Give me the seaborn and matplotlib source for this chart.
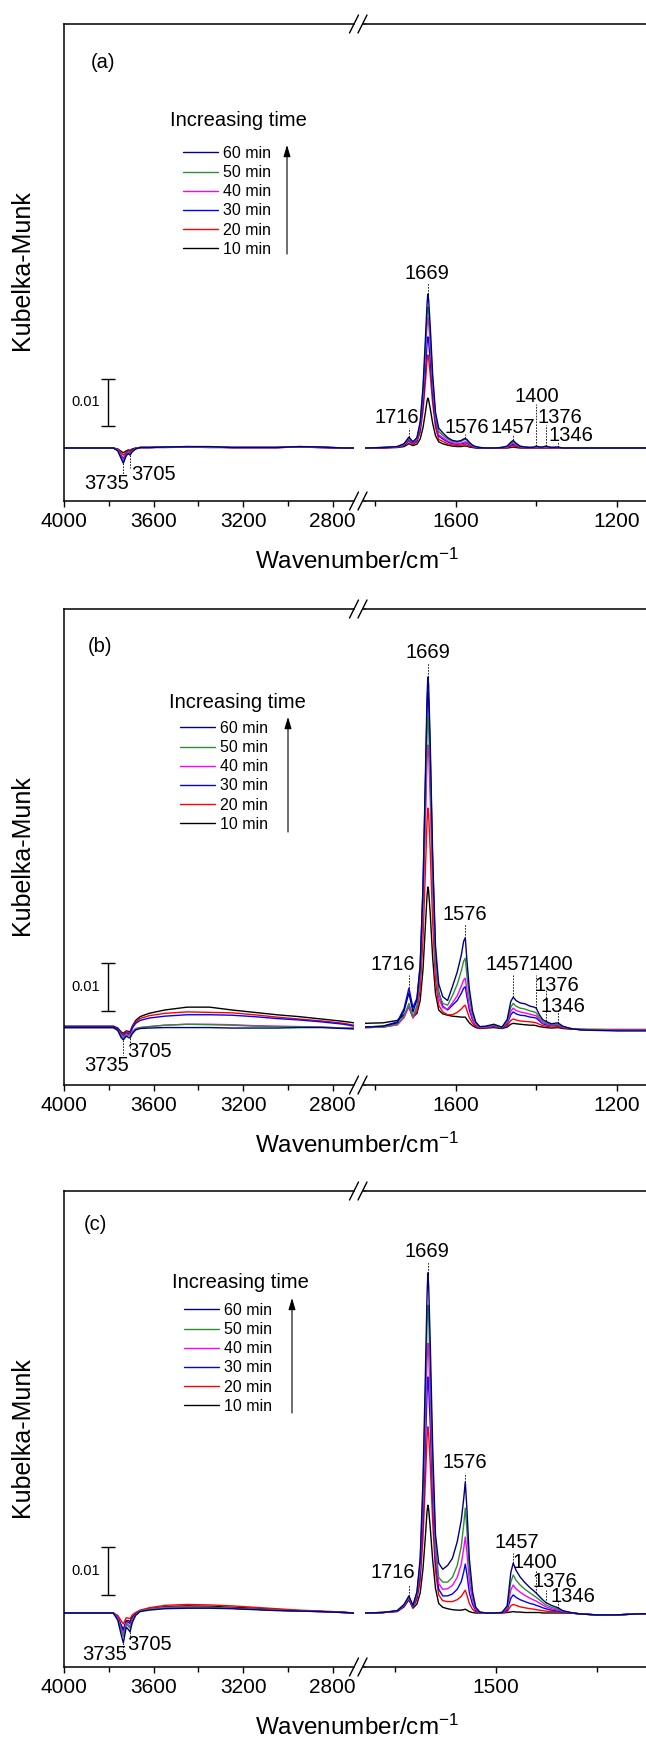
import pandas as pd
import seaborn as sns
import matplotlib.pyplot as plt
from matplotlib.lines import Line2D
from matplotlib.patches import FancyArrowPatch
from matplotlib.ticker import FixedLocator

W, H = 646, 1743

times = ['10 min', '20 min', '30 min', '40 min', '50 min', '60 min']
colors = ['black', '#ff0000', '#0000ff', '#ff00ff', '#2f8f2f', '#000080']

# wavenumbers (cm-1) sampled from the two parts of the broken axis
wn_left = [4000, 3850, 3780, 3760, 3745, 3735, 3722, 3712, 3705, 3695,
           3680, 3660, 3620, 3550, 3450, 3350, 3250, 3150, 3050, 2950,
           2850, 2750, 2705]
wn_right = [1825, 1780, 1745, 1728, 1716, 1706, 1696, 1688, 1681, 1675,
            1671, 1669, 1667, 1663, 1657, 1650, 1642, 1632, 1620, 1608,
            1596, 1586, 1580, 1576, 1572, 1566, 1558, 1550, 1540, 1525,
            1505, 1485, 1472, 1463, 1457, 1450, 1440, 1428, 1415, 1405,
            1400, 1392, 1384, 1376, 1362, 1346, 1334, 1315, 1290, 1250,
            1200, 1150, 1100]

# ---- panel (a), Kubelka-Munk in units of 0.001 ----
a_left_10 = [0.0, 0.0, 0.0, -0.2, -0.7, -1.0, -0.6, -0.4, -0.5, -0.2,
             0.0, 0.1, 0.1, 0.1, 0.2, 0.1, 0.1, 0.1, 0.1, 0.2, 0.1, 0.0, 0.0]
a_left_20 = [0.0, 0.0, 0.0, -0.3, -1.0, -1.5, -0.9, -0.6, -0.7, -0.4,
             -0.1, 0.1, 0.1, 0.2, 0.2, 0.2, 0.1, 0.1, 0.1, 0.2, 0.1, 0.0, 0.0]
a_left_30 = [0.0, 0.0, 0.0, -0.4, -1.5, -2.2, -1.2, -0.9, -1.0, -0.5,
             -0.1, 0.1, 0.1, 0.2, 0.2, 0.2, 0.1, 0.1, 0.1, 0.2, 0.1, 0.0, 0.0]
a_left_40 = [0.0, 0.0, 0.0, -0.4, -1.7, -2.5, -1.4, -1.0, -1.1, -0.6,
             -0.1, 0.1, 0.1, 0.2, 0.2, 0.2, 0.1, 0.1, 0.1, 0.2, 0.2, 0.0, 0.0]
a_left_50 = [0.0, 0.0, 0.0, -0.5, -2.0, -3.0, -1.5, -1.1, -1.3, -0.7,
             -0.2, 0.1, 0.1, 0.2, 0.3, 0.2, 0.1, 0.1, 0.1, 0.3, 0.2, 0.0, 0.0]
a_left_60 = [0.0, 0.0, 0.0, -0.6, -2.2, -3.2, -1.6, -1.2, -1.5, -0.8,
             -0.2, 0.1, 0.1, 0.2, 0.3, 0.3, 0.1, 0.1, 0.1, 0.3, 0.2, 0.0, 0.0]

a_right_10 = [0.0, 0.0, 0.1, 0.3, 0.9, 0.5, 0.8, 1.9, 4.3, 7.5,
              9.9, 10.5, 10.1, 8.3, 5.2, 2.6, 1.3, 0.9, 0.6, 0.4,
              0.3, 0.3, 0.4, 0.4, 0.4, 0.2, 0.1, 0.0, 0.0, 0.0,
              0.0, 0.0, 0.0, 0.1, 0.2, 0.1, 0.0, 0.0, 0.0, 0.0,
              0.0, 0.0, 0.0, 0.0, 0.0, 0.0, 0.0, 0.0, 0.0, 0.0,
              0.0, 0.0, 0.0]
a_right_20 = [0.0, 0.0, 0.2, 0.5, 1.4, 0.7, 1.3, 3.3, 7.8, 13.8,
              18.3, 19.6, 18.8, 15.4, 9.4, 4.4, 1.8, 1.4, 0.9, 0.6,
              0.5, 0.6, 0.7, 0.7, 0.6, 0.4, 0.2, 0.1, 0.0, 0.0,
              0.0, 0.0, 0.1, 0.4, 0.5, 0.3, 0.1, 0.1, 0.0, 0.1,
              0.1, 0.1, 0.0, 0.1, 0.0, 0.0, 0.0, 0.0, 0.0, 0.0,
              0.0, 0.0, 0.0]
a_right_30 = [0.0, 0.1, 0.2, 0.6, 1.7, 0.9, 1.6, 4.0, 9.3, 16.5,
              21.9, 23.4, 22.5, 18.4, 11.2, 5.3, 2.5, 1.9, 1.3, 0.9,
              0.8, 0.9, 1.0, 1.1, 1.0, 0.7, 0.3, 0.1, 0.0, 0.0,
              0.0, 0.1, 0.2, 0.6, 0.8, 0.5, 0.2, 0.1, 0.1, 0.1,
              0.2, 0.1, 0.1, 0.2, 0.1, 0.1, 0.0, 0.0, 0.0, 0.0,
              0.0, 0.0, 0.0]
a_right_40 = [0.0, 0.1, 0.2, 0.7, 1.9, 1.0, 1.8, 4.6, 11.0, 19.5,
              25.8, 27.6, 26.5, 21.7, 13.2, 6.2, 2.8, 2.2, 1.5, 1.1,
              0.9, 1.0, 1.2, 1.3, 1.2, 0.8, 0.4, 0.2, 0.1, 0.0,
              0.0, 0.1, 0.2, 0.8, 1.0, 0.6, 0.3, 0.1, 0.1, 0.1,
              0.2, 0.1, 0.1, 0.2, 0.1, 0.1, 0.0, 0.0, 0.0, 0.0,
              0.0, 0.0, 0.0]
a_right_50 = [0.0, 0.1, 0.3, 0.8, 2.1, 1.2, 2.0, 5.0, 11.8, 21.0,
              27.8, 29.7, 28.6, 23.4, 14.2, 6.8, 3.5, 2.7, 1.9, 1.4,
              1.2, 1.4, 1.7, 1.8, 1.6, 1.0, 0.5, 0.2, 0.1, 0.0,
              0.0, 0.1, 0.3, 1.0, 1.3, 0.8, 0.3, 0.2, 0.1, 0.1,
              0.3, 0.2, 0.1, 0.3, 0.1, 0.1, 0.0, 0.0, 0.0, 0.0,
              0.0, 0.0, 0.0]
a_right_60 = [0.0, 0.1, 0.3, 0.9, 2.3, 1.3, 2.2, 5.5, 12.8, 23.0,
              30.3, 32.4, 31.2, 25.6, 15.5, 7.5, 4.2, 3.2, 2.2, 1.6,
              1.4, 1.6, 1.9, 2.0, 1.8, 1.2, 0.6, 0.3, 0.1, 0.0,
              0.0, 0.1, 0.4, 1.2, 1.6, 1.0, 0.4, 0.2, 0.1, 0.2,
              0.4, 0.2, 0.2, 0.4, 0.1, 0.2, 0.0, 0.0, 0.0, 0.0,
              0.0, 0.0, 0.0]

# ---- panel (b) ----
b_left_10 = [0.6, 0.6, 0.6, 0.2, -0.6, -0.9, -0.4, -0.5, -0.6, 0.6,
             1.8, 2.6, 3.3, 4.0, 4.6, 4.6, 4.0, 3.5, 3.0, 2.6, 2.1, 1.6, 1.3]
b_left_20 = [0.4, 0.4, 0.4, 0.0, -0.8, -1.1, -0.6, -0.7, -0.8, 0.4,
             1.5, 2.2, 2.8, 3.3, 3.6, 3.5, 3.4, 3.0, 2.5, 2.1, 1.7, 1.2, 0.8]
b_left_30 = [0.4, 0.4, 0.4, 0.0, -1.0, -1.4, -0.8, -1.0, -1.1, 0.2,
             1.2, 1.8, 2.3, 2.7, 3.0, 3.0, 2.9, 2.6, 2.2, 1.9, 1.5, 1.0, 0.6]
b_left_40 = [0.3, 0.3, 0.3, -0.2, -1.2, -1.6, -1.0, -1.2, -1.3, -0.5,
             0.1, 0.3, 0.5, 0.8, 1.0, 1.0, 0.9, 0.7, 0.6, 0.5, 0.4, 0.2, 0.2]
b_left_50 = [0.3, 0.3, 0.3, -0.2, -1.4, -1.9, -1.2, -1.4, -1.5, -0.7,
             0.0, 0.3, 0.5, 0.8, 1.0, 0.9, 0.8, 0.6, 0.5, 0.5, 0.4, 0.2, 0.2]
b_left_60 = [0.3, 0.3, 0.3, -0.3, -1.8, -2.3, -1.5, -1.8, -1.9, -1.0,
             -0.2, 0.1, 0.2, 0.3, 0.3, 0.3, 0.2, 0.2, 0.2, 0.3, 0.3, 0.1, 0.0]

b_right_10 = [1.2, 1.3, 1.8, 3.0, 4.6, 2.5, 3.3, 6.0, 12.5, 21.8,
              28.0, 29.9, 29.1, 24.3, 15.0, 7.5, 4.0, 3.2, 2.9, 2.7,
              2.6, 2.5, 2.5, 2.5, 2.0, 1.3, 0.7, 0.3, 0.1, 0.2,
              0.3, 0.1, 0.4, 1.0, 1.2, 1.1, 1.0, 0.9, 0.8, 0.8,
              0.7, 0.5, 0.4, 0.3, 0.2, 0.3, 0.1, 0.0, -0.1, -0.1,
              -0.1, -0.1, -0.1]
b_right_20 = [0.3, 0.4, 0.9, 2.5, 5.0, 2.4, 3.8, 8.3, 19.0, 33.5,
              43.5, 46.5, 45.2, 37.5, 22.6, 10.3, 5.0, 3.6, 3.0, 3.0,
              3.5, 4.2, 4.8, 5.0, 3.9, 2.4, 1.2, 0.5, 0.2, 0.3,
              0.5, 0.2, 0.7, 1.8, 2.1, 1.9, 1.7, 1.6, 1.5, 1.4,
              1.3, 1.0, 0.7, 0.6, 0.4, 0.5, 0.2, 0.0, -0.1, -0.1,
              -0.2, -0.2, -0.2]
b_right_30 = [0.4, 0.6, 1.5, 4.3, 8.6, 4.5, 6.5, 13.5, 29.5, 51.5,
              67.0, 71.0, 69.3, 57.5, 35.0, 16.0, 7.8, 4.8, 4.0, 5.0,
              6.0, 7.5, 8.6, 8.9, 6.8, 4.0, 1.9, 0.8, 0.3, 0.4,
              0.6, 0.2, 1.1, 3.0, 3.6, 3.2, 2.9, 2.8, 2.5, 2.4,
              2.3, 1.7, 1.1, 0.9, 0.7, 0.8, 0.3, 0.1, -0.1, -0.2,
              -0.3, -0.3, -0.3]
b_right_40 = [0.3, 0.4, 0.9, 2.4, 4.8, 2.3, 4.4, 10.5, 24.5, 43.2,
              56.4, 59.8, 58.2, 48.2, 29.0, 13.0, 6.5, 4.5, 4.2, 5.5,
              7.0, 9.0, 10.3, 10.7, 8.2, 4.8, 2.2, 0.9, 0.3, 0.4,
              0.7, 0.3, 1.3, 3.7, 4.4, 3.9, 3.6, 3.4, 3.1, 2.9,
              2.8, 2.0, 1.3, 1.1, 0.8, 0.9, 0.4, 0.1, -0.1, -0.2,
              -0.2, -0.2, -0.2]
b_right_50 = [0.3, 0.4, 1.0, 2.7, 5.4, 2.6, 4.9, 11.6, 27.0, 47.5,
              62.0, 65.7, 64.0, 53.0, 32.0, 14.5, 7.5, 5.4, 5.0, 7.0,
              9.4, 12.2, 14.3, 14.9, 11.3, 6.6, 3.0, 1.2, 0.4, 0.5,
              0.8, 0.3, 1.6, 4.6, 5.4, 4.8, 4.4, 4.2, 3.8, 3.6,
              3.4, 2.4, 1.6, 1.3, 0.9, 1.0, 0.5, 0.1, -0.1, -0.2,
              -0.3, -0.3, -0.3]
b_right_60 = [0.4, 0.6, 1.3, 3.8, 7.6, 3.6, 6.2, 13.1, 30.0, 53.5,
              70.0, 74.1, 72.5, 60.0, 36.5, 17.5, 9.5, 6.8, 6.0, 8.9,
              12.0, 15.5, 18.5, 19.2, 14.5, 8.5, 3.8, 1.5, 0.5, 0.6,
              1.0, 0.4, 2.0, 5.8, 6.7, 6.0, 5.5, 5.3, 4.8, 4.6,
              4.4, 3.0, 2.0, 1.6, 1.1, 1.3, 0.6, 0.1, -0.2, -0.3,
              -0.4, -0.4, -0.4]

# ---- panel (c) ----
c_left_10 = [0.0, 0.0, 0.0, -0.8, -2.5, -3.5, -1.6, -1.6, -1.8, -0.8,
             -0.1, 0.5, 0.9, 1.3, 1.5, 1.4, 1.2, 1.0, 0.7, 0.5, 0.3, 0.1, 0.0]
c_left_20 = [0.0, 0.0, 0.0, -0.5, -1.6, -2.3, -1.0, -1.1, -1.2, -0.4,
             0.1, 0.6, 1.1, 1.6, 1.8, 1.7, 1.5, 1.2, 0.9, 0.6, 0.4, 0.2, 0.0]
c_left_30 = [0.0, 0.0, 0.0, -0.9, -2.7, -3.8, -1.8, -2.0, -2.2, -1.0,
             -0.2, 0.4, 0.8, 1.2, 1.3, 1.2, 1.0, 0.8, 0.6, 0.4, 0.3, 0.1, 0.0]
c_left_40 = [0.0, 0.0, 0.0, -1.0, -3.2, -4.5, -2.1, -2.5, -2.8, -1.3,
             -0.3, 0.4, 0.8, 1.2, 1.3, 1.2, 1.0, 0.8, 0.6, 0.4, 0.3, 0.1, 0.0]
c_left_50 = [0.0, 0.0, 0.0, -1.2, -3.6, -5.0, -2.4, -2.8, -3.2, -1.6,
             -0.4, 0.4, 0.8, 1.1, 1.2, 1.2, 1.0, 0.8, 0.6, 0.4, 0.3, 0.1, 0.0]
c_left_60 = [0.0, 0.0, 0.0, -1.5, -4.5, -6.3, -3.0, -3.5, -4.0, -2.0,
             -0.5, 0.3, 0.6, 0.9, 1.0, 1.0, 0.9, 0.7, 0.5, 0.4, 0.3, 0.1, 0.0]

c_right_10 = [0.0, 0.1, 0.3, 1.3, 2.8, 1.0, 1.9, 4.2, 9.3, 16.2,
              21.3, 22.7, 21.9, 18.0, 11.2, 5.2, 2.0, 1.2, 0.9, 0.7,
              0.6, 0.6, 0.7, 0.8, 0.6, 0.3, 0.1, 0.0, 0.0, 0.0,
              0.0, 0.0, 0.1, 0.2, 0.3, 0.2, 0.2, 0.1, 0.1, 0.1,
              0.1, 0.1, 0.0, 0.0, 0.0, 0.0, 0.0, 0.0, -0.2, -0.4,
              -0.4, -0.2, -0.1]
c_right_20 = [0.0, 0.1, 0.4, 1.4, 3.0, 1.2, 2.8, 6.7, 15.7, 28.0,
              36.8, 39.2, 37.8, 31.2, 19.2, 8.8, 3.8, 2.6, 2.4, 2.4,
              2.8, 3.5, 4.3, 4.8, 3.8, 2.0, 0.8, 0.2, 0.0, 0.0,
              0.0, 0.0, 0.3, 1.5, 1.8, 1.6, 1.3, 1.1, 0.9, 0.8,
              0.7, 0.6, 0.5, 0.4, 0.3, 0.2, 0.1, 0.0, -0.2, -0.4,
              -0.4, -0.2, -0.1]
c_right_30 = [0.0, 0.1, 0.4, 1.5, 3.1, 1.3, 3.4, 8.3, 19.8, 35.2,
              46.4, 49.7, 48.0, 39.6, 24.2, 11.0, 5.0, 3.6, 3.6, 4.0,
              5.0, 6.6, 8.6, 10.3, 8.2, 4.3, 1.8, 0.5, 0.1, 0.0,
              0.0, 0.1, 0.6, 3.1, 3.8, 3.3, 2.8, 2.4, 2.0, 1.8,
              1.6, 1.4, 1.1, 0.9, 0.6, 0.4, 0.2, 0.0, -0.2, -0.4,
              -0.4, -0.2, -0.1]
c_right_40 = [0.0, 0.1, 0.4, 1.6, 3.2, 1.4, 3.8, 9.5, 22.5, 40.2,
              53.0, 56.8, 54.8, 45.2, 27.6, 12.6, 6.2, 5.0, 5.1, 5.8,
              7.5, 10.3, 13.5, 16.0, 12.8, 6.6, 2.7, 0.8, 0.1, 0.0,
              0.0, 0.1, 0.9, 4.8, 5.9, 5.1, 4.4, 3.7, 3.1, 2.7,
              2.5, 2.1, 1.7, 1.3, 0.9, 0.6, 0.3, 0.1, -0.2, -0.4,
              -0.4, -0.2, -0.1]
c_right_50 = [0.0, 0.1, 0.5, 1.7, 3.4, 1.5, 4.2, 10.6, 25.5, 45.8,
              60.5, 64.8, 62.5, 51.5, 31.5, 14.5, 7.5, 6.5, 6.5, 7.5,
              10.0, 14.0, 18.5, 22.1, 17.5, 9.0, 3.6, 1.0, 0.2, 0.0,
              0.0, 0.1, 1.2, 6.5, 8.0, 6.9, 5.9, 5.0, 4.2, 3.6,
              3.3, 2.8, 2.2, 1.7, 1.2, 0.8, 0.4, 0.1, -0.2, -0.4,
              -0.4, -0.2, -0.1]
c_right_60 = [0.0, 0.1, 0.5, 1.8, 3.6, 1.6, 4.5, 11.5, 28.0, 50.5,
              66.8, 71.6, 69.0, 57.0, 35.0, 16.5, 10.5, 9.2, 10.0, 11.5,
              15.0, 19.5, 24.0, 27.6, 22.0, 11.5, 4.5, 1.2, 0.2, 0.0,
              0.0, 0.1, 1.5, 8.5, 10.5, 9.0, 7.6, 6.4, 5.3, 4.6,
              4.2, 3.5, 2.8, 2.2, 1.6, 1.1, 0.5, 0.1, -0.2, -0.4,
              -0.4, -0.2, -0.1]

# peak labels: text, line x, line y0, line y1, text x, text y, axis part
a_notes = [('1669', 1669, 32.4, 34.7, 1670, 36.8, 'r'),
           ('1716', 1716, 2.3, 4.2, 1745, 6.5, 'r'),
           ('1576', 1576, 2.0, 2.9, 1572, 4.3, 'r'),
           ('1457', 1457, 1.6, 2.9, 1457, 4.3, 'r'),
           ('1400', 1400, 0.4, 9.3, 1398, 10.9, 'r'),
           ('1376', 1376, 0.4, 4.8, 1340, 6.5, 'r'),
           ('1346', 1346, 0.2, 1.3, 1313, 2.7, 'r'),
           ('3735', 3735, -3.2, -5.7, 3808, -7.4, 'l'),
           ('3705', 3705, -1.5, -4.2, 3602, -5.5, 'l')]
b_notes = [('1669', 1669, 74.1, 77.1, 1669, 79.2, 'r'),
           ('1576', 1576, 19.2, 22.1, 1576, 24.0, 'r'),
           ('1716', 1716, 8.6, 11.4, 1755, 13.5, 'r'),
           ('1457', 1457, 6.7, 11.4, 1470, 13.5, 'r'),
           ('1400', 1400, 4.4, 11.4, 1363, 13.5, 'r'),
           ('1376', 1376, 1.6, 8.2, 1348, 9.1, 'r'),
           ('1346', 1346, 1.3, 4.0, 1333, 4.8, 'r'),
           ('3735', 3735, -2.3, -5.5, 3808, -7.6, 'l'),
           ('3705', 3705, -1.9, -4.0, 3616, -4.8, 'l')]
c_notes = [('1669', 1669, 71.6, 73.9, 1672, 76.2, 'r'),
           ('1576', 1576, 27.6, 29.5, 1576, 31.6, 'r'),
           ('1716', 1716, 3.6, 5.9, 1755, 8.6, 'r'),
           ('1457', 1457, 10.5, 12.6, 1447, 14.9, 'r'),
           ('1400', 1400, 4.2, 9.1, 1403, 10.7, 'r'),
           ('1376', 1376, 2.2, 4.8, 1353, 6.7, 'r'),
           ('1346', 1346, 1.1, 2.7, 1308, 3.4, 'r'),
           ('3735', 3735, -6.3, -7.8, 3817, -8.8, 'l'),
           ('3705', 3705, -4.0, -5.5, 3620, -6.7, 'l')]

sns.set_style('ticks', {'axes.edgecolor': 'black', 'xtick.color': 'black', 'text.color': 'black'})
plt.rcParams['font.family'] = ['Liberation Sans', 'DejaVu Sans']
plt.rcParams['mathtext.default'] = 'regular'
plt.rcParams['axes.linewidth'] = 1.1


def fx(x):
    return x / W


def fy(y):
    return 1 - y / H


def long_table(grid, series):
    parts = [pd.DataFrame({'wavenumber': grid, 'km': vals, 'time': t})
             for t, vals in zip(times, series)]
    return pd.concat(parts, ignore_index=True)


panels = [
    dict(tag='(a)', top=24, bottom=501, ylim=(-11.16, 89.26), bar=9.6,
         left=[a_left_10, a_left_20, a_left_30, a_left_40, a_left_50, a_left_60],
         right=[a_right_10, a_right_20, a_right_30, a_right_40, a_right_50, a_right_60],
         notes=a_notes, major=[1600, 1200], minor=[1800, 1400],
         tag_xy=(91, 39), title_xy=(170, 96), leg_xy=(183, 127), arrow=(287, 121, 230)),
    dict(tag='(b)', top=609, bottom=1085, ylim=(-11.79, 88.42), bar=8.8,
         left=[b_left_10, b_left_20, b_left_30, b_left_40, b_left_50, b_left_60],
         right=[b_right_10, b_right_20, b_right_30, b_right_40, b_right_50, b_right_60],
         notes=b_notes, major=[1600, 1200], minor=[1800, 1400],
         tag_xy=(88, 37), title_xy=(169, 94), leg_xy=(180, 117), arrow=(288, 108, 223)),
    dict(tag='(c)', top=1191, bottom=1667, ylim=(-11.37, 88.84), bar=8.8,
         left=[c_left_10, c_left_20, c_left_30, c_left_40, c_left_50, c_left_60],
         right=[c_right_10, c_right_20, c_right_30, c_right_40, c_right_50, c_right_60],
         notes=c_notes, major=[1500], minor=[1750, 1250],
         tag_xy=(84, 34), title_xy=(172, 91), leg_xy=(184, 117), arrow=(292, 107, 222)),
]

palette = dict(zip(times, colors))
fig = plt.figure(figsize=(W / 100, H / 100), dpi=100)

for p in panels:
    top, bot = p['top'], p['bottom']
    ax_l = fig.add_axes([fx(64), fy(bot), (354 - 64) / W, (bot - top) / H])
    ax_r = fig.add_axes([fx(365), fy(bot), (657 - 365) / W, (bot - top) / H])

    for ax, grid, series, lim in [(ax_l, wn_left, p['left'], (4000, 2705)),
                                  (ax_r, wn_right, p['right'], (1825, 1100))]:
        sns.lineplot(data=long_table(grid, series), x='wavenumber', y='km',
                     hue='time', hue_order=times, palette=palette,
                     estimator=None, legend=False, linewidth=1.0, ax=ax)
        ax.set_xlim(*lim)
        ax.set_ylim(*p['ylim'])
        ax.set_yticks([])
        ax.set_xlabel('')
        ax.set_ylabel('')
        ax.tick_params(axis='x', which='major', direction='out', length=4.5,
                       width=1.0, labelsize=15, pad=3.5)
        ax.tick_params(axis='x', which='minor', direction='out', length=3.5, width=1.0)

    ax_l.set_xticks([4000, 3600, 3200, 2800])
    ax_l.xaxis.set_minor_locator(FixedLocator([3800, 3400, 3000]))
    ax_r.set_xticks(p['major'])
    ax_r.xaxis.set_minor_locator(FixedLocator(p['minor']))
    ax_l.spines['right'].set_visible(False)
    ax_r.spines['left'].set_visible(False)
    ax_r.spines['right'].set_visible(False)

    # peak labels with dashed guide lines
    for label, xl, y0, y1, xt, yt, part in p['notes']:
        ax = ax_l if part == 'l' else ax_r
        ax.plot([xl, xl], [y0, y1], color='black', lw=0.6, ls=(0, (2, 1.5)))
        ax.text(xt, yt, label, ha='center', va='center', fontsize=14.5)

    # 0.01 scale bar
    ax_l.errorbar([3805], [p['bar']], yerr=[5.0], fmt='none', ecolor='black',
                  elinewidth=1.0, capsize=5, capthick=1.0)
    ax_l.text(3839, p['bar'], '0.01', ha='right', va='center', fontsize=10.5)

    # legend, title and arrow
    handles = [Line2D([], [], color=c, lw=1.0) for c in colors][::-1]
    lx, ly = p['leg_xy']
    ax_l.legend(handles, times[::-1], loc='upper left',
                bbox_to_anchor=(fx(lx), fy(top + ly - 5)), bbox_transform=fig.transFigure,
                frameon=False, fontsize=11.5, handlelength=2.2, handletextpad=0.3,
                labelspacing=0.26, borderpad=0, borderaxespad=0)
    tx, ty = p['title_xy']
    fig.text(fx(tx), fy(top + ty), 'Increasing time', fontsize=14.5, ha='left', va='center')
    axx, a_top, a_bot = p['arrow']
    fig.add_artist(FancyArrowPatch((fx(axx), fy(top + a_bot)), (fx(axx), fy(top + a_top)),
                                   transform=fig.transFigure, color='black', lw=0.8,
                                   arrowstyle='-|>,head_length=0.5,head_width=0.15',
                                   mutation_scale=14, shrinkA=0, shrinkB=0))

    gx, gy = p['tag_xy']
    fig.text(fx(gx), fy(top + gy), p['tag'], fontsize=14.5, ha='left', va='center')

    # axis break marks on top and bottom spines
    for y in (top, bot):
        for cx in (354, 362.5):
            fig.add_artist(Line2D([fx(cx - 4.5), fx(cx + 4.5)], [fy(y + 9), fy(y - 9)],
                                  transform=fig.transFigure, color='black', lw=1.0))
        fig.add_artist(Line2D([fx(362.5), fx(365)], [fy(y), fy(y)],
                              transform=fig.transFigure, color='black', lw=1.1))

    fig.text(fx(22), fy((top + bot) / 2 + 8), 'Kubelka-Munk', rotation=90,
             fontsize=18, ha='center', va='center')
    fig.text(fx(357), fy(bot + 60), 'Wavenumber/cm$^{-1}$', fontsize=17.5,
             ha='center', va='center')

fig.savefig('out.png', dpi=100)
